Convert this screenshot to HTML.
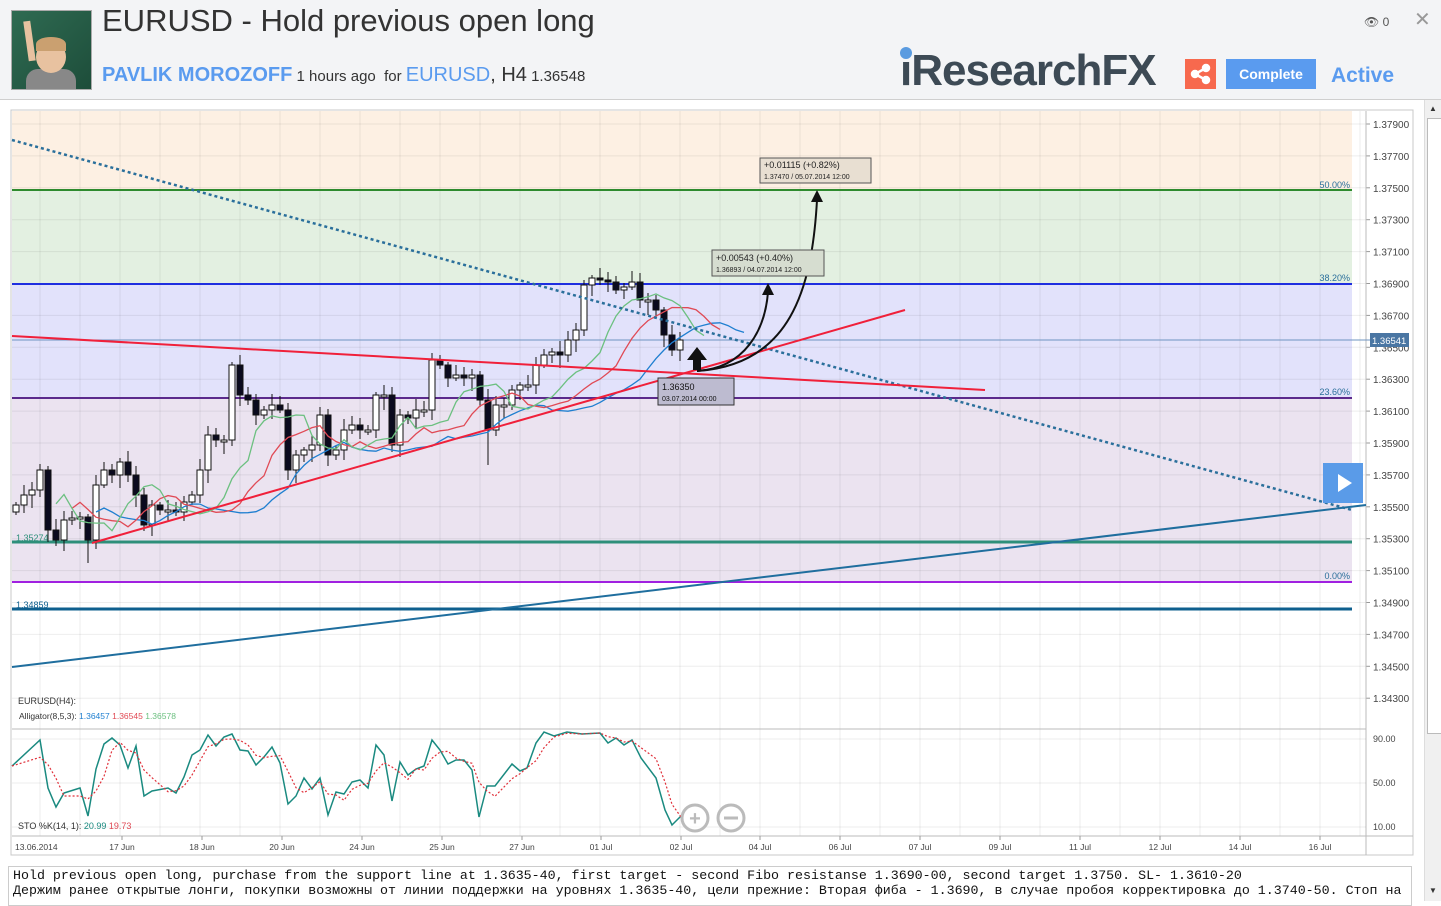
<!DOCTYPE html>
<html><head><meta charset="utf-8">
<style>
html,body{margin:0;padding:0;width:1441px;height:901px;overflow:hidden;background:#fff;font-family:"Liberation Sans",sans-serif;}
#hdr{position:absolute;left:0;top:0;width:1441px;height:99px;background:#f3f4f6;border-bottom:1px solid #cfcfcf;}
#ava{position:absolute;left:11px;top:10px;width:79px;height:78px;background:linear-gradient(135deg,#2f6b52,#1d4d3a);border:1px solid #aaa;overflow:hidden}
#ava .face{position:absolute;left:24px;top:30px;width:30px;height:32px;border-radius:50%;background:#e8c2a0}
#ava .hair{position:absolute;left:24px;top:26px;width:30px;height:14px;border-radius:50% 50% 0 0;background:#caa070}
#ava .body{position:absolute;left:14px;top:58px;width:50px;height:30px;border-radius:12px 12px 0 0;background:#888}
#ava .arm{position:absolute;left:14px;top:10px;width:7px;height:40px;background:#e8c2a0;transform:rotate(-8deg)}
#title{position:absolute;left:102px;top:3px;font-size:31px;color:#333;}
#sub{position:absolute;left:102px;top:64px;font-size:15px;color:#333;white-space:nowrap}
#sub .a{color:#5a9bef;font-weight:bold;font-size:20px}
#sub .b{color:#5a9bef;font-size:20px}
#sub .c{font-size:20px}
#logo{position:absolute;left:900px;top:46px;font-size:44px;font-weight:bold;color:#3d4a55;letter-spacing:-1px;transform:scaleX(1.0);transform-origin:0 0;font-family:"Liberation Sans",sans-serif}
#dot{position:absolute;left:900px;top:47px;width:12px;height:12px;border-radius:50%;background:#5a9be0}
#share{position:absolute;left:1185px;top:59px;width:31px;height:30px;background:#f7694e}
#cmp{position:absolute;left:1226px;top:59px;width:90px;height:30px;background:#5a9bef;color:#fff;font-weight:bold;font-size:14px;text-align:center;line-height:30px}
#act{position:absolute;left:1331px;top:64px;color:#5a9bef;font-weight:bold;font-size:21px}
#eye{position:absolute;left:1364px;top:15px;font-size:12px;color:#555}
#x{position:absolute;left:1414px;top:7px;font-size:20px;color:#999}
#txt{position:absolute;left:8px;top:866px;width:1404px;height:40px;border:1px solid #ccc;font-family:"Liberation Mono",monospace;font-size:13.3px;line-height:15px;padding:1px 4px;white-space:nowrap;color:#111;overflow:hidden;box-sizing:border-box}
#sb{position:absolute;left:1424px;top:100px;width:17px;height:801px;background:#f0f0f0;border-left:1px solid #ddd}
#sbt{position:absolute;left:2px;top:18px;width:13px;height:614px;background:#fff;border:1px solid #bbb}
</style></head><body>
<div id="hdr">
 <div id="ava"><div class="arm"></div><div class="body"></div><div class="face"></div><div class="hair"></div></div>
 <div id="title">EURUSD - Hold previous open long</div>
 <div id="sub"><span class="a">PAVLIK MOROZOFF</span> 1 hours ago &nbsp;for <span class="b">EURUSD</span><span class="c">, H4</span> 1.36548</div>
 <div id="logo">iResearchFX</div>
 <div id="dot"></div>
 <div id="share"><svg width="31" height="30"><g stroke="#fff" stroke-width="2.5" fill="#fff"><line x1="10" y1="15" x2="21" y2="9"/><line x1="10" y1="15" x2="21" y2="21"/><circle cx="10" cy="15" r="3"/><circle cx="21" cy="9" r="3"/><circle cx="21" cy="21" r="3"/></g></svg></div>
 <div id="cmp">Complete</div>
 <div id="act">Active</div>
 <div id="eye">&#128065; 0</div>
 <div id="x">✕</div>
</div>
<svg id="ch" width="1441" height="901" style="position:absolute;left:0;top:0" font-family="Liberation Sans, sans-serif"></svg>
<div id="txt">Hold previous open long, purchase from the support line at 1.3635-40, first target - second Fibo resistanse 1.3690-00, second target 1.3750. SL- 1.3610-20<br>Держим ранее открытые лонги, покупки возможны от линии поддержки на уровнях 1.3635-40, цели прежние: Вторая фиба - 1.3690, в случае пробоя корректировка до 1.3740-50. Стоп на</div>
<div id="sb"><div id="sbt"></div><div style="position:absolute;left:4px;top:4px;font-size:8px;color:#333">▲</div><div style="position:absolute;left:4px;top:786px;font-size:8px;color:#333">▼</div></div>
<script>
(function(){
var s='';
function Y(p){return 124+(1.379-p)*15950;}
s+='<rect x="11" y="110" width="1402" height="745" fill="#fff" stroke="#c8c8c8"/>';
var L=12,R=1352;
s+='<rect x="'+L+'" y="111" width="'+(R-L)+'" height="79" fill="#fdf0e3"/>';
s+='<rect x="'+L+'" y="190" width="'+(R-L)+'" height="94" fill="#e3f0e1"/>';
s+='<rect x="'+L+'" y="284" width="'+(R-L)+'" height="114" fill="#e2e2fb"/>';
s+='<rect x="'+L+'" y="398" width="'+(R-L)+'" height="184" fill="#ebe3f0"/>';
for(var gx=40;gx<1366;gx+=40){s+='<line x1="'+gx+'" y1="111" x2="'+gx+'" y2="836" stroke="#000" stroke-opacity="0.07"/>';}
var ticks=[1.379,1.377,1.375,1.373,1.371,1.369,1.367,1.365,1.363,1.361,1.359,1.357,1.355,1.353,1.351,1.349,1.347,1.345,1.343];
ticks.forEach(function(p){var y=Y(p);s+='<line x1="12" y1="'+y+'" x2="1366" y2="'+y+'" stroke="#000" stroke-opacity="0.07"/>';
 s+='<line x1="1366" y1="'+y+'" x2="1370" y2="'+y+'" stroke="#999"/><text x="1373" y="'+(y+4)+'" font-size="10" fill="#444">'+p.toFixed(5)+'</text>';});
s+='<line x1="1366" y1="111" x2="1366" y2="855" stroke="#bbb"/>';
s+='<line x1="12" y1="729" x2="1366" y2="729" stroke="#bbb"/><line x1="12" y1="836" x2="1413" y2="836" stroke="#bbb"/>';
function hl(y,c,w){s+='<line x1="'+L+'" y1="'+y+'" x2="'+R+'" y2="'+y+'" stroke="'+c+'" stroke-width="'+w+'"/>';}
hl(190,'#2e8b2e',2);hl(284,'#1f2ee0',2);hl(398,'#5b2a8c',2);hl(582,'#a020e0',2);hl(542,'#2e8f7a',3);hl(609,'#0e5f8e',3);
function tx(x,y,t,c,sz,anc){s+='<text x="'+x+'" y="'+y+'" font-size="'+(sz||9)+'" fill="'+c+'"'+(anc?' text-anchor="'+anc+'"':'')+'>'+t+'</text>';}
tx(1350,188,'50.00%','#2a6f9b',9,'end');tx(1350,281,'38.20%','#2a6f9b',9,'end');tx(1350,395,'23.60%','#2a6f9b',9,'end');tx(1350,579,'0.00%','#2a6f9b',9,'end');
tx(16,541,'1.35274','#2e8f7a',9);tx(16,608,'1.34859','#0e5f8e',9);
s+='<line x1="12" y1="340" x2="1370" y2="340" stroke="#6f94c0" stroke-width="1"/>';
s+='<rect x="1370" y="333" width="39" height="14" fill="#4a76a3"/>';tx(1372,344,'1.36541','#fff',9.5);
var C=[505,495,490,470,530,540,520,518,517,540,485,470,475,462,475,495,525,505,510,510,512,502,495,470,435,440,440,365,395,400,415,410,405,410,470,455,450,445,415,455,450,430,425,430,430,395,395,445,415,418,410,410,360,365,378,375,378,375,400,430,405,405,390,385,385,365,355,352,355,340,330,285,278,280,282,290,287,282,300,300,310,335,350,340];
var prev=512;
for(var i=0;i<C.length;i++){var x=16+i*8,o=prev,c=C[i];var tp=Math.min(o,c),bt=Math.max(o,c);if(bt-tp<2){bt=tp+2;}
 var hi=tp-3-((i*7)%9),lo=bt+3+((i*5)%11);if(i==9)lo=563;if(i==59)lo=465;if(i==34)lo=480;
 s+='<line x1="'+x+'" y1="'+hi+'" x2="'+x+'" y2="'+lo+'" stroke="#111"/>';
 s+='<rect x="'+(x-3)+'" y="'+tp+'" width="6" height="'+(bt-tp)+'" fill="'+(c>o?'#0a0a1e':'#fff')+'" stroke="#111"/>';prev=c;}
function smma(n,sh,col,off){var pts=[],v=C[0];for(var i=0;i<C.length;i++){v=(v*(n-1)+C[i])/n;if(i>=2)pts.push((16+(i+sh)*8)+','+(v+off).toFixed(1));}
 s+='<polyline points="'+pts.join(' ')+'" fill="none" stroke="'+col+'" stroke-width="1.3"/>';}
smma(8,8,'#1f7fd0',10);smma(5,5,'#e04a55',8);smma(3,3,'#6cc080',6);
s+='<line x1="12" y1="140" x2="1352" y2="510" stroke="#2a6f9b" stroke-width="2.5" stroke-dasharray="3,3"/>';
s+='<line x1="12" y1="667" x2="1366" y2="505" stroke="#1f6e9e" stroke-width="2"/>';
s+='<line x1="12" y1="336" x2="985" y2="390" stroke="#f0203a" stroke-width="2"/>';
s+='<line x1="92" y1="543" x2="905" y2="310" stroke="#f0203a" stroke-width="2"/>';
s+='<path d="M697,371 C745,368 765,330 768,292" fill="none" stroke="#111" stroke-width="2"/>';
s+='<path d="M697,371 C790,365 812,290 817,200" fill="none" stroke="#111" stroke-width="2"/>';
s+='<polygon points="762,295 768,283 774,295" fill="#111"/><polygon points="811,202 817,190 823,202" fill="#111"/>';
s+='<polygon points="687,360 697,347 707,360 701,360 701,370 693,370 693,360" fill="#111"/>';
s+='<rect x="760" y="158" width="111" height="25" fill="#e8dfd2" stroke="#555"/>';tx(764,168,'+0.01115 (+0.82%)','#222',9);tx(764,179,'1.37470 / 05.07.2014 12:00','#222',7);
s+='<rect x="712" y="250" width="112" height="26" fill="#d6ddd0" stroke="#555"/>';tx(716,261,'+0.00543 (+0.40%)','#222',9);tx(716,272,'1.36893 / 04.07.2014 12:00','#222',7);
s+='<rect x="658" y="378" width="76" height="27" fill="#bdbbd0" stroke="#333"/>';tx(662,390,'1.36350','#111',9);tx(662,401,'03.07.2014 00:00','#111',7);
s+='<rect x="1323" y="463" width="40" height="40" fill="#5a9be8"/><polygon points="1338,474 1338,492 1352,483" fill="#fff"/>';
tx(18,704,'EURUSD(H4):','#333',9);
s+='<text x="19" y="719" font-size="8.5" fill="#333">Alligator(8,5,3): <tspan fill="#1f7fd0">1.36457</tspan> <tspan fill="#e04a55">1.36545</tspan> <tspan fill="#6cc080">1.36578</tspan></text>';
s+='<text x="18" y="829" font-size="9" fill="#333">STO %K(14, 1): <tspan fill="#1a8a80">20.99</tspan> <tspan fill="#e04a55">19.73</tspan></text>';
[[739,'90.00'],[783,'50.00'],[827,'10.00']].forEach(function(a){s+='<line x1="12" y1="'+a[0]+'" x2="1366" y2="'+a[0]+'" stroke="#000" stroke-opacity="0.07"/>';tx(1373,a[0]+3,a[1],'#444',9);});
var T=[[12,766],[40,740],[48,788],[56,807],[64,793],[80,788],[88,816],[96,769],[104,744],[112,738],[120,745],[128,768],[136,746],[144,796],[152,791],[168,788],[176,793],[184,777],[192,755],[200,750],[208,735],[216,746],[224,737],[232,734],[240,750],[248,751],[256,765],[264,757],[272,747],[280,763],[288,804],[296,796],[304,778],[312,789],[320,778],[328,815],[336,792],[344,794],[352,782],[360,780],[368,788],[376,745],[384,755],[392,801],[400,762],[408,775],[416,769],[424,766],[432,740],[440,750],[448,764],[456,760],[464,760],[472,770],[479,817],[487,786],[495,786],[512,764],[520,771],[527,768],[536,743],[544,732],[554,736],[567,732],[582,734],[600,733],[608,743],[616,738],[624,745],[632,740],[641,758],[656,778],[665,810],[672,825],[681,816]];
s+='<polyline points="'+T.map(function(p){return p.join(',')}).join(' ')+'" fill="none" stroke="#1a8a80" stroke-width="1.5"/>';
var D=[];for(var i=0;i<T.length;i++){var a=T[Math.max(0,i-2)][1],b=T[Math.max(0,i-1)][1];D.push(T[i][0]+','+((a+b+T[i][1])/3).toFixed(1));}
s+='<polyline points="'+D.join(' ')+'" fill="none" stroke="#e0303a" stroke-width="1.2" stroke-dasharray="2,2"/>';
s+='<circle cx="695" cy="818" r="13" fill="#fff" fill-opacity="0.6" stroke="#bbb" stroke-width="3"/><text x="695" y="825" font-size="20" font-weight="bold" fill="#bbb" text-anchor="middle">+</text>';
s+='<circle cx="731" cy="818" r="13" fill="#fff" fill-opacity="0.6" stroke="#bbb" stroke-width="3"/><line x1="724" y1="818" x2="738" y2="818" stroke="#bbb" stroke-width="3"/>';
var dl=[[15,'13.06.2014'],[122,'17 Jun'],[202,'18 Jun'],[282,'20 Jun'],[362,'24 Jun'],[442,'25 Jun'],[522,'27 Jun'],[601,'01 Jul'],[681,'02 Jul'],[760,'04 Jul'],[840,'06 Jul'],[920,'07 Jul'],[1000,'09 Jul'],[1080,'11 Jul'],[1160,'12 Jul'],[1240,'14 Jul'],[1320,'16 Jul']];
dl.forEach(function(d,i){if(i>0)s+='<line x1="'+d[0]+'" y1="836" x2="'+d[0]+'" y2="840" stroke="#999"/>';tx(i?d[0]:15,850,d[1],'#444',8.5,i?'middle':null);});
document.getElementById('ch').innerHTML=s;
})();
</script>
</body></html>
